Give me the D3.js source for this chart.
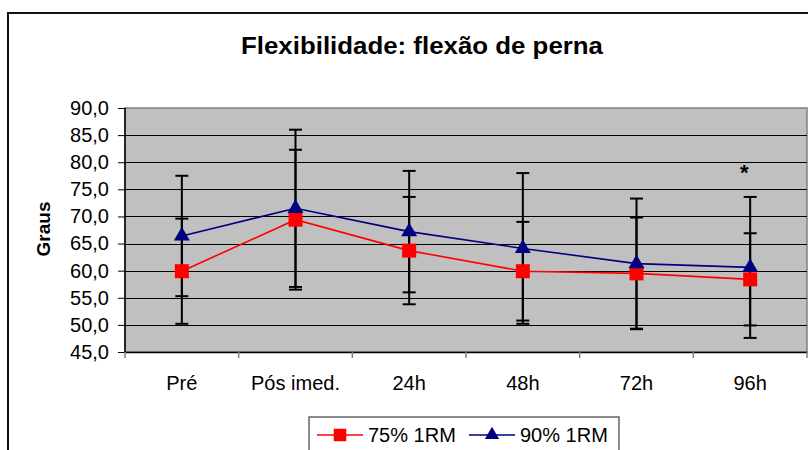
<!DOCTYPE html>
<meta charset="utf-8">
<script src="https://d3js.org/d3.v7.min.js"></script>
<style>
  body { margin: 0; background: #fff; }
  text { font-family: "Liberation Sans", Arial, sans-serif; }
</style>
<div id="chart"></div>
<script>

// data
const categories = ["Pré", "Pós imed.", "24h", "48h", "72h", "96h"];
const mean75 = [59.9, 69.4, 63.7, 59.9, 59.5, 58.4];
const sd75   = [9.7, 12.9, 9.9, 9.1, 10.3, 8.5];
const mean90 = [66.4, 71.5, 67.2, 64.1, 61.3, 60.6];
const sd90   = [11.1, 14.5, 11.2, 13.9, 12.0, 13.0];
const yTicks = [45, 50, 55, 60, 65, 70, 75, 80, 85, 90];
const notes  = [{cat: "96h", value: 76.8, text: "*"}];

const W = 808, H = 450;
const margin = {top: 108, right: 1, bottom: 98, left: 125};
const width = W - margin.left - margin.right,
      height = H - margin.top - margin.bottom;

const svg = d3.select("#chart").append("svg")
    .attr("width", W).attr("height", H);

// outer chart frame
svg.append("rect")
    .attr("x", 8).attr("y", 13)
    .attr("width", W + 20).attr("height", H + 20)
    .attr("fill", "none").attr("stroke", "#111").attr("stroke-width", 2);

svg.append("text")
    .attr("x", 422).attr("y", 54)
    .attr("text-anchor", "middle")
    .style("font-size", "24px").style("font-weight", "bold")
    .attr("textLength", 362).attr("lengthAdjust", "spacingAndGlyphs")
    .text("Flexibilidade: flexão de perna");

const g = svg.append("g").attr("transform", `translate(${margin.left},${margin.top})`);

const x = d3.scaleBand().domain(categories).range([0, width]);
const y = d3.scaleLinear().domain([45, 90]).range([height, 0]);
const cx = d => x(d) + x.bandwidth() / 2;

// plot area
g.append("rect")
    .attr("width", width).attr("height", height)
    .attr("fill", "#c0c0c0").attr("stroke", "#808080").attr("stroke-width", 1.5);

// gridlines
g.append("g").selectAll("line")
  .data(yTicks.filter(t => t > 45 && t < 90))
  .join("line")
    .attr("x1", 0).attr("x2", width)
    .attr("y1", d => Math.round(y(d)) + 0.5).attr("y2", d => Math.round(y(d)) + 0.5)
    .attr("stroke", "#000").attr("stroke-width", 1);

// y axis
const yAxis = g.append("g")
    .call(d3.axisLeft(y).tickValues(yTicks).tickSize(7).tickPadding(9)
      .tickFormat(d => d3.format(".1f")(d).replace(".", ",")));
yAxis.selectAll("text").style("font-size", "20px").attr("fill", "#000");
yAxis.selectAll("line, path").attr("stroke", "#000");
yAxis.select(".domain").attr("d", `M0,0V${height}`).attr("stroke-width", 1.5);

// x axis
const xAxis = g.append("g").attr("transform", `translate(0,${height})`)
    .call(d3.axisBottom(x).tickSize(0).tickPadding(24));
xAxis.selectAll("text").style("font-size", "20px").attr("fill", "#000");
xAxis.select(".domain").attr("stroke", "#000").attr("stroke-width", 1.5);
xAxis.selectAll(".bound")
  .data(d3.range(categories.length + 1))
  .join("line")
    .attr("x1", i => i * x.bandwidth()).attr("x2", i => i * x.bandwidth())
    .attr("y1", 0).attr("y2", 6)
    .attr("stroke", "#808080").attr("stroke-width", 1.5);

svg.append("text")
    .attr("transform", `translate(50,229) rotate(-90)`)
    .attr("text-anchor", "middle")
    .style("font-size", "19px").style("font-weight", "bold")
    .text("Graus");

const series = [
  {name: "75% 1RM", mean: mean75, sd: sd75, color: "#ff0000", shape: d3.symbolSquare, size: 196},
  {name: "90% 1RM", mean: mean90, sd: sd90, color: "#000080", shape: d3.symbolTriangle, size: 110}
];

// error bars
series.forEach(s => {
  const eb = g.append("g").selectAll("g")
    .data(categories.map((c, i) => ({c, m: s.mean[i], e: s.sd[i]})))
    .join("g").attr("stroke", "#000").attr("stroke-width", 2);
  eb.append("line")
    .attr("x1", d => cx(d.c)).attr("x2", d => cx(d.c))
    .attr("y1", d => y(d.m + d.e)).attr("y2", d => y(d.m - d.e));
  [1, -1].forEach(k => {
    eb.append("line")
      .attr("x1", d => cx(d.c) - 6.5).attr("x2", d => cx(d.c) + 6.5)
      .attr("y1", d => y(d.m + k * d.e)).attr("y2", d => y(d.m + k * d.e));
  });
});

const line = d3.line().x(d => cx(d.c)).y(d => y(d.m));
series.forEach(s => {
  const pts = categories.map((c, i) => ({c, m: s.mean[i]}));
  g.append("path").datum(pts)
    .attr("d", line).attr("fill", "none")
    .attr("stroke", s.color).attr("stroke-width", 1.6);
});
series.forEach(s => {
  const pts = categories.map((c, i) => ({c, m: s.mean[i]}));
  g.append("g").selectAll("path").data(pts).join("path")
    .attr("transform", d => `translate(${cx(d.c)},${y(d.m)})`)
    .attr("d", d3.symbol().type(s.shape).size(s.size))
    .attr("fill", s.color);
});

// significance mark
g.selectAll(".note").data(notes).join("text")
    .attr("x", d => cx(d.cat) - 6).attr("y", d => y(d.value))
    .attr("text-anchor", "middle")
    .style("font-size", "22px").style("font-weight", "bold")
    .text(d => d.text);

// legend
const leg = svg.append("g").attr("transform", "translate(309,417)");
leg.append("rect")
    .attr("width", 310).attr("height", 50)
    .attr("fill", "#fff").attr("stroke", "#666").attr("stroke-width", 1.5);
const items = leg.selectAll(".item").data(series).join("g")
    .attr("transform", (d, i) => `translate(${8 + i * 152},18)`);
items.append("line")
    .attr("x1", 0).attr("x2", 46).attr("y1", 0).attr("y2", 0)
    .attr("stroke", d => d.color).attr("stroke-width", 1.6);
items.append("path")
    .attr("transform", "translate(23,0)")
    .attr("d", d => d3.symbol().type(d.shape).size(d.size * 0.8)())
    .attr("fill", d => d.color);
items.append("text")
    .attr("x", 51).attr("y", 7)
    .style("font-size", "20px")
    .text(d => d.name);

</script>
